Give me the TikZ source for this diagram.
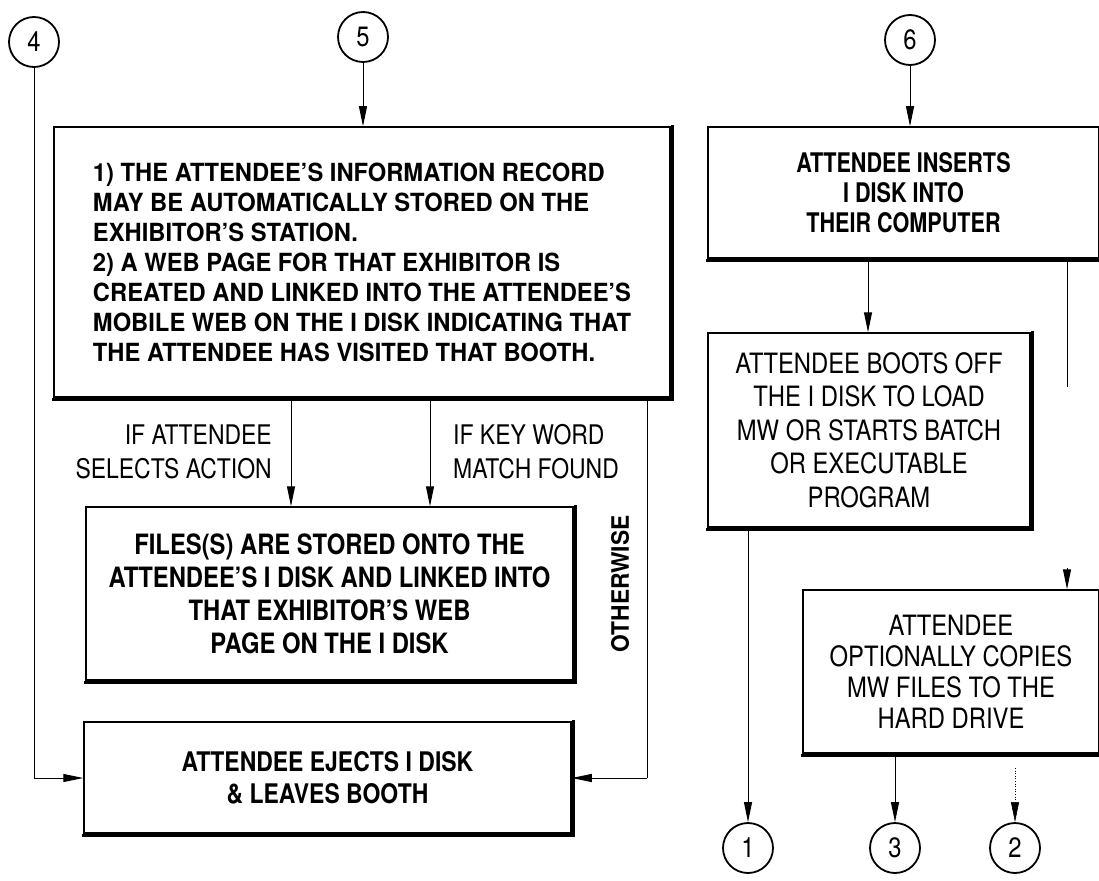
\documentclass[tikz,border=0pt]{standalone}
\usepackage{fontspec}
\setmainfont{TeX Gyre Heros}
\newfontfamily\fA{TeX Gyre Heros}[FakeStretch=0.95]
\newfontfamily\fB{TeX Gyre Heros}[FakeStretch=0.80]
\newfontfamily\fC{TeX Gyre Heros}[FakeStretch=0.85]
\usetikzlibrary{arrows.meta}
\begin{document}
\begin{tikzpicture}[x=1pt,y=-1pt,
  every node/.style={inner sep=0pt},
  box/.style={draw, line width=1.5pt, rectangle, align=center},
  conn/.style={circle, draw, line width=1.8pt, minimum size=50pt, font=\fC\fontsize{28}{28}\selectfont},
  flow/.style={line width=1pt, -{Triangle[length=20pt,width=8pt]}},
  plain/.style={line width=1pt},
  shade/.style={line width=3.5pt, line cap=rect},
  lab/.style={font=\fC\fontsize{27}{34}\selectfont}
]
\useasboundingbox (0,0) rectangle (1099,880);
% connectors (circles)
\node[conn] (c4) at (34,42) {4};
\node[conn] (c5) at (363,37) {5};
\node[conn] (c6) at (910,40) {6};
\node[conn] (c1) at (748,848) {1};
\node[conn] (c3) at (895,848) {3};
\node[conn] (c2) at (1015,848) {2};
% boxes
\node[box, minimum width=616pt, minimum height=270pt, align=left,
      font=\fA\bfseries\fontsize{25}{30}\selectfont] (b5) at (362,262)
 {1) THE ATTENDEE’S INFORMATION RECORD\\
  MAY BE AUTOMATICALLY STORED ON THE\\
  EXHIBITOR’S STATION.\\
  2) A WEB PAGE FOR THAT EXHIBITOR IS\\
  CREATED AND LINKED INTO THE ATTENDEE’S\\
  MOBILE WEB ON THE I DISK INDICATING THAT\\
  THE ATTENDEE HAS VISITED THAT BOOTH.};
\node[box, minimum width=487pt, minimum height=173pt,
      font=\fC\bfseries\fontsize{28}{33}\selectfont] (bf) at (329.5,593.5)
 {FILES(S) ARE STORED ONTO THE\\
  ATTENDEE’S I DISK AND LINKED INTO\\
  THAT EXHIBITOR’S WEB\\
  PAGE ON THE I DISK};
\node[box, minimum width=487pt, minimum height=111pt,
      font=\fC\bfseries\fontsize{27}{32}\selectfont] (be) at (327.5,777.5)
 {ATTENDEE EJECTS I DISK\\ \& LEAVES BOOTH};
\node[box, minimum width=391pt, minimum height=131pt,
      font=\fB\bfseries\fontsize{27}{30}\selectfont] (b6) at (903.5,192.5)
 {ATTENDEE INSERTS\\ I DISK INTO\\ THEIR COMPUTER};
\node[box, minimum width=322pt, minimum height=194pt,
      font=\fC\fontsize{28}{33.5}\selectfont] (bb) at (869,430)
 {ATTENDEE BOOTS OFF\\ THE I DISK TO LOAD\\ MW OR STARTS BATCH\\ OR EXECUTABLE\\ PROGRAM};
\node[box, minimum width=296pt, minimum height=163pt,
      font=\fC\fontsize{28}{31}\selectfont] (bo) at (951,671.5)
 {ATTENDEE\\ OPTIONALLY COPIES\\ MW FILES TO THE\\ HARD DRIVE};
% heavy bottom/right edges
\foreach \b in {b5,bf,be,b6,bb,bo}
  \draw[shade] ([yshift=-1.5pt]\b.south west) -| ([xshift=1.5pt]\b.north east);
% labels
\node[lab, align=right, anchor=east] (l1) at (272,452) {IF ATTENDEE\\ SELECTS ACTION};
\node[lab, align=left, anchor=west] (l2) at (453,452) {IF KEY WORD\\ MATCH FOUND};
\node[font=\fA\bfseries\fontsize{24}{24}\selectfont, rotate=90] (l3) at (620,584) {OTHERWISE};
% flows
\draw[flow] (c5) -- (c5 |- b5.north);
\draw[plain] (c4.south) -- (c4.south |- 0,778) coordinate (k4);
\draw[flow] (k4) -- (k4 -| be.west);
\draw[flow] (291,397) coordinate (d1) -- (d1 |- bf.north);
\draw[flow] (430,397) coordinate (d2) -- (d2 |- bf.north);
\draw[plain] (647,397) coordinate (d3) -- (647,778) coordinate (k3);
\draw[flow] (k3) -- (k3 -| be.east);
\draw[flow] (c6) -- (c6 |- b6.north);
\draw[flow] (868,258) coordinate (d4) -- (d4 |- bb.north);
\draw[plain, line width=0.6pt] (1067,258) coordinate (d5) -- (1067,387) coordinate (k5);
\coordinate (k6) at (1067,568);
\draw[flow] (k6) -- (k6 |- bo.north);
\draw[flow] (748,527) coordinate (d6) -- (c1.north);
\draw[flow] (895,753) coordinate (d7) -- (c3.north);
\draw[line width=0.6pt, dotted, -{Triangle[length=20pt,width=8pt]}] (1015,768) coordinate (d8) -- (c2.north);
\end{tikzpicture}
\end{document}
